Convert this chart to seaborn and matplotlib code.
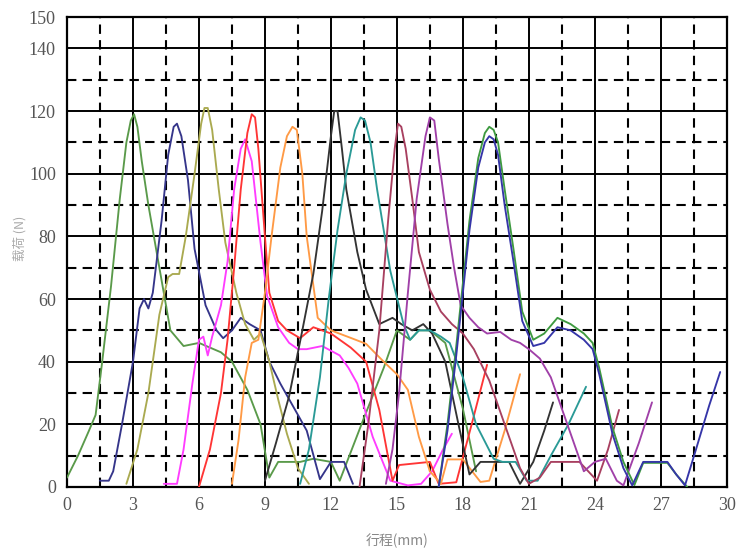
import numpy as np
import pandas as pd
import seaborn as sns
import matplotlib.pyplot as plt
from matplotlib.ticker import FixedLocator

# load curves, one x/y list per trial
green1_x = [0, 0.5, 1.0, 1.3, 1.6, 2.0, 2.4, 2.7, 2.9, 3.05, 3.2, 3.4, 3.7, 4.2, 4.7, 5.3, 6.0, 7.0, 7.5, 8.2,
            8.8, 9.2, 9.6, 10.6, 11.2, 12.0, 12.4, 13.5, 14.4, 15.0, 15.6, 16.0, 16.5, 17.2, 18.0, 18.6]
green1_y = [3, 10, 18, 23, 40, 64, 92, 110, 117, 119, 115, 104, 90, 70, 50, 45, 46, 43, 40, 31,
            20, 3, 8, 8, 9, 8, 2, 22, 38, 50, 47, 50, 50, 46, 25, 5]

navy_x = [1.5, 1.9, 2.1, 2.5, 3.0, 3.3, 3.5, 3.7, 3.9, 4.3, 4.6, 4.85, 5.0, 5.2, 5.5, 5.8, 6.3, 6.8, 7.1,
          7.5, 7.9, 8.3, 8.8, 9.2, 9.7, 10.1, 10.5, 10.9, 11.5, 12.0, 12.6, 13.0]
navy_y = [2, 2, 5, 20, 40, 57, 60, 57, 62, 85, 106, 115, 116, 112, 98, 76, 58, 50, 47.5,
          50, 54, 52, 50, 40, 33, 28, 23, 18, 2.5, 8, 8, 1]

khaki_x = [2.7, 3.2, 3.7, 4.2, 4.6, 4.8, 5.1, 5.4, 5.8, 6.1, 6.25, 6.4, 6.6, 6.9, 7.2, 7.7, 8.1, 8.5,
           8.8, 9.2, 9.6, 10.0, 10.5, 11.0]
khaki_y = [1, 12, 30, 55, 67, 68, 68, 80, 100, 116, 121, 121, 114, 95, 78, 62, 52, 47,
           49, 40, 28, 17, 6, 1]

magenta_x = [4.4, 5.0, 5.3, 5.7, 6.0, 6.2, 6.4, 6.6, 7.0, 7.3, 7.6, 7.9, 8.1, 8.4, 8.8, 9.1, 9.6, 10.1,
             10.5, 10.9, 11.6, 12.4, 12.8, 13.2, 13.9, 14.7, 15.5, 16.1, 16.6, 17.1, 17.5]
magenta_y = [1, 1, 12, 33, 47, 48, 42, 48, 58, 72, 95, 108, 111, 104, 78, 61, 51, 46,
             44, 44, 45, 42, 38, 33, 16, 2, 0.5, 1, 5, 12, 17]

red_x = [6.0, 6.5, 7.0, 7.3, 7.6, 7.9, 8.2, 8.4, 8.55, 8.7, 9.0, 9.2, 9.6, 10.0, 10.6, 11.2, 12.0, 12.9,
         13.6, 14.2, 14.8, 15.1, 16.5, 16.9, 17.7, 18.4, 19.1]
red_y = [0, 12, 30, 47, 70, 95, 113, 119, 118, 108, 80, 62, 53, 50, 47.5, 51, 49, 44.5,
         40, 24.6, 2, 7, 8, 1, 1.5, 20, 39]

orange_x = [7.5, 7.8, 8.1, 8.4, 8.7, 9.0, 9.3, 9.7, 10.0, 10.25, 10.45, 10.7, 10.9, 11.4, 12.0, 12.9,
            13.6, 14.4, 15.0, 15.5, 16.0, 16.5, 17.0, 17.3, 18.0, 18.8, 19.2, 19.9, 20.6]
orange_y = [1, 15, 35, 46, 47, 62, 80, 102, 112, 115, 114, 100, 80, 54, 50, 47.6,
            45.7, 40, 36, 31, 16, 5, 1, 8.8, 8.8, 1.6, 2, 18, 36]

black_x = [9.0, 9.5, 10.1, 10.7, 11.2, 11.6, 12.0, 12.15, 12.3, 12.5, 12.7, 13.2, 13.6, 14.2, 14.8, 15.2,
           15.7, 16.2, 16.6, 17.2, 17.8, 18.3, 18.8, 19.5, 20.1, 20.6, 21.2, 21.7, 22.1]
black_y = [2, 14, 29, 50, 68, 88, 112, 120, 120, 108, 95, 75, 63, 52, 54, 52,
           50, 52, 49, 40, 20, 4, 8, 8, 8, 1, 8, 18, 27]

teal_x = [10.6, 11.0, 11.5, 11.9, 12.3, 12.7, 13.1, 13.35, 13.55, 13.8, 14.1, 14.7, 15.3, 15.6, 16.0,
          16.5, 17.0, 17.4, 18.0, 18.6, 19.4, 19.8, 20.4, 20.9, 21.4, 22.0, 22.8, 23.6]
teal_y = [1, 12, 35, 60, 82, 100, 114, 118, 117, 110, 95, 69, 52, 47, 50,
          50, 48, 46, 35, 20, 9, 8, 8, 2, 2, 10, 20, 32]

maroon_x = [13.3, 13.7, 14.2, 14.6, 14.9, 15.05, 15.2, 15.4, 15.7, 16.0, 16.5, 17.0, 17.5, 18.0, 18.5,
            19.2, 20.0, 20.6, 21.0, 21.5, 22.0, 22.6, 23.3, 24.1, 24.6, 25.1]
maroon_y = [0, 20, 50, 85, 108, 116, 115, 108, 92, 75, 63, 56, 52, 49, 44,
            34, 18, 6, 1, 3, 8, 8, 8, 2, 12, 24.6]

purple_x = [14.5, 14.8, 15.1, 15.5, 15.9, 16.3, 16.5, 16.7, 16.9, 17.3, 17.6, 17.9, 18.3, 18.7, 19.1,
            19.7, 20.2, 20.6, 21.0, 21.5, 22.0, 22.5, 23.0, 23.5, 24.0, 24.5, 25.0, 25.3, 26.0, 26.6]
purple_y = [1, 12, 30, 62, 92, 112, 118, 117, 105, 84, 70, 58, 54, 51, 49,
            49.5, 47, 46, 44, 41, 35, 25, 15, 5, 8, 9, 2, 0.5, 14, 27]

green2_x = [16.9, 17.3, 17.7, 18.0, 18.3, 18.7, 19.0, 19.2, 19.4, 19.6, 19.9, 20.3, 20.7, 21.2, 21.7,
            22.3, 22.9, 23.5, 23.9, 24.2, 24.8, 25.3, 25.8, 26.2, 27.3, 27.7, 28.2]
green2_y = [0, 20, 45, 65, 85, 105, 113, 115, 114, 110, 95, 76, 56, 47, 49,
            54, 52, 49, 46, 38, 19, 8, 0.6, 7.7, 7.7, 4, 0]

blue2_x = [16.9, 17.3, 17.7, 18.0, 18.3, 18.7, 19.0, 19.2, 19.4, 19.6, 19.9, 20.3, 20.7, 21.2, 21.7,
           22.3, 22.9, 23.5, 23.9, 24.2, 24.8, 25.3, 25.7, 26.2, 27.3, 27.7, 28.1, 28.6, 29.2, 29.7]
blue2_y = [0, 18, 42, 62, 82, 102, 110, 112, 111, 106, 90, 72, 53, 45, 46,
           51, 50, 47, 44, 36, 17, 6, 0.5, 8, 8, 4, 0.5, 12, 26, 36.7]

curves = {
    'green1': (green1_x, green1_y), 'navy': (navy_x, navy_y), 'khaki': (khaki_x, khaki_y),
    'magenta': (magenta_x, magenta_y), 'red': (red_x, red_y), 'orange': (orange_x, orange_y),
    'black': (black_x, black_y), 'teal': (teal_x, teal_y), 'maroon': (maroon_x, maroon_y),
    'purple': (purple_x, purple_y), 'green2': (green2_x, green2_y), 'blue2': (blue2_x, blue2_y),
}
colors = {
    'green1': '#5a9a4a', 'navy': '#35358a', 'khaki': '#aaaa50', 'magenta': '#ff3cff',
    'red': '#ff3535', 'orange': '#ff9a45', 'black': '#333333', 'teal': '#2a9a96',
    'maroon': '#a84060', 'purple': '#a040a8', 'green2': '#3e9a40', 'blue2': '#3535a8',
}

x_ticks = [0, 3, 6, 9, 12, 15, 18, 21, 24, 27, 30]
y_ticks = [0, 20, 40, 60, 80, 100, 120, 140, 150]

# build long-form table
rows = []
for name, (xs, ys) in curves.items():
    for xv, yv in zip(xs, ys):
        rows.append({'trial': name, 'x': xv, 'y': yv})
df = pd.DataFrame(rows)

sns.set_style('white')
plt.rcParams['font.family'] = ['Noto Sans CJK SC', 'DejaVu Sans']

fig = plt.figure(figsize=(7.38, 5.54), dpi=100)
ax = fig.add_axes([0.0908, 0.121, 0.894, 0.848])

sns.lineplot(data=df, x='x', y='y', hue='trial', palette=colors, estimator=None,
             sort=False, legend=False, linewidth=1.35, ax=ax, zorder=3)

ax.set_xlim(0, 30)
ax.set_ylim(0, 150)

# solid grid on major ticks, dashed on the half steps
ax.xaxis.set_major_locator(FixedLocator(x_ticks))
ax.xaxis.set_minor_locator(FixedLocator(np.arange(1.5, 30, 3)))
ax.yaxis.set_major_locator(FixedLocator(y_ticks))
ax.yaxis.set_minor_locator(FixedLocator(np.arange(10, 150, 20)))
ax.grid(which='major', color='black', linewidth=1.4, linestyle='-')
ax.grid(which='minor', color='black', linewidth=1.5, linestyle=(0, (4.5, 3)))
ax.set_axisbelow(True)

ax.tick_params(which='both', length=0)
ax.tick_params(axis='x', pad=7)
ax.tick_params(axis='y', pad=8)
for lab in ax.get_xticklabels() + ax.get_yticklabels():
    lab.set_family('Liberation Serif')
    lab.set_fontsize(13)
    lab.set_color('#555555')

for sp in ax.spines.values():
    sp.set_color('black')
    sp.set_linewidth(1.6)

ax.set_xlabel('行程(mm)', fontsize=10, color='#888888', labelpad=14)
ax.set_ylabel('载荷 (N)', fontsize=9, color='#aaaaaa', labelpad=12)
ax.yaxis.set_label_coords(-0.062, 0.53)

plt.savefig('out.png', dpi=100)
plt.close()
